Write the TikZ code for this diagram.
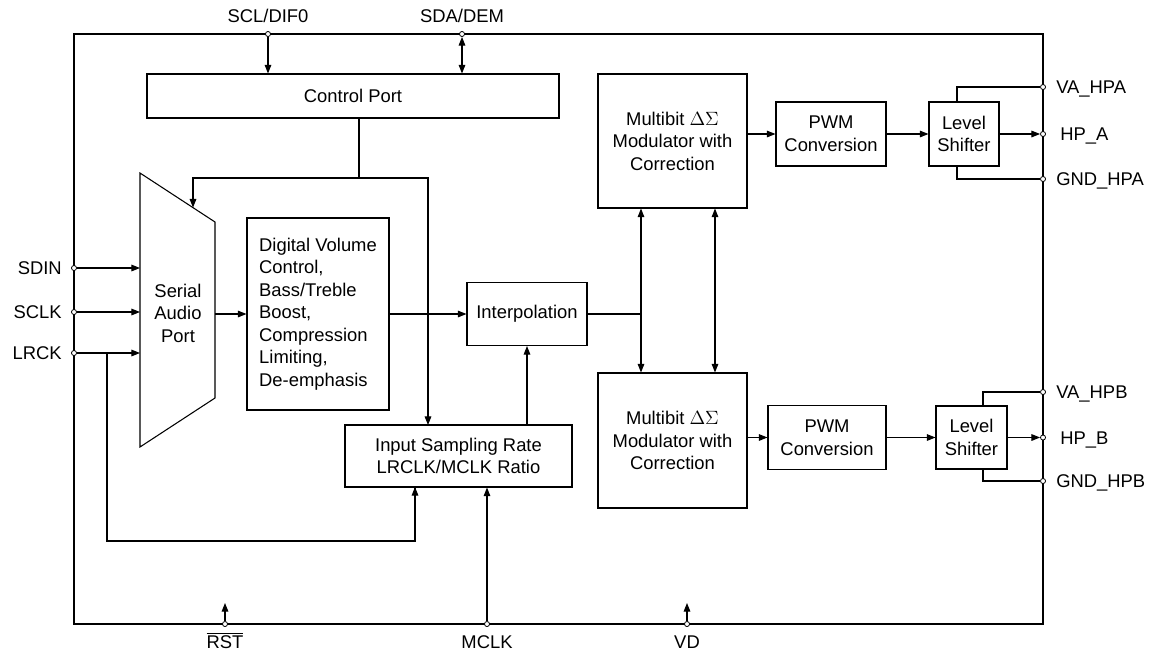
\documentclass[tikz,border=0pt]{standalone}
\usepackage{fontspec}
\setmainfont{Liberation Sans}
\usetikzlibrary{arrows.meta}
\usetikzlibrary{calc}

\begin{document}
\begin{tikzpicture}[
		x=0.75pt, y=-0.75pt,
		every node/.style={font=\fontsize{13.8}{16.9}\selectfont},
		blk/.style={draw, line width=0.8pt, align=center, inner sep=0pt},
		wire/.style={line width=0.8pt},
		arr/.style={wire, -{Triangle[length=6.5pt,width=5pt]}},
		darr/.style={wire, {Triangle[length=6.5pt,width=5pt]}-{Triangle[length=6.5pt,width=5pt]}},
		pin/.style={circle, draw, fill=white, line width=0.6pt, inner sep=0pt, minimum size=3.8pt},
		lbl/.style={inner sep=0pt}
	]
	\useasboundingbox (0,0) rectangle (1149,654);

	% chip outline
	\node[draw, line width=1pt, minimum width=726.75pt, minimum height=442.5pt, inner sep=0pt] (chip) at (558.5,329) {};

	% blocks
	\node[blk, minimum width=309pt, minimum height=33pt] (cp) at (353,96) {Control Port};
	\node[blk, align=left, minimum width=106.5pt, minimum height=144pt] (dvc) at (318,314)
		{Digital Volume\\Control,\\Bass/Treble\\Boost,\\Compression\\Limiting,\\De-emphasis};
	\node[blk, minimum width=90pt, minimum height=47.25pt] (interp) at (527,314) {Interpolation};
	\node[blk, minimum width=170.25pt, minimum height=46.5pt] (isr) at (458.5,456)
		{Input Sampling Rate\\LRCLK/MCLK Ratio};
	\node[blk, minimum width=111.75pt, minimum height=100.5pt] (moda) at (672.5,141)
		{Multibit $\Delta\Sigma$\\Modulator with\\Correction};
	\node[blk, minimum width=111.75pt, minimum height=101.25pt] (modb) at (672.5,440.5)
		{Multibit $\Delta\Sigma$\\Modulator with\\Correction};
	\node[blk, minimum width=82.5pt, minimum height=48pt] (pwma) at (831,134) {PWM\\Conversion};
	\node[blk, minimum width=88.5pt, minimum height=48pt] (pwmb) at (827,437.5) {PWM\\Conversion};
	\node[blk, minimum width=52.5pt, minimum height=48pt] (lsa) at (964,134) {Level\\Shifter};
	\node[blk, minimum width=53.25pt, minimum height=47.25pt] (lsb) at (971.5,437.5) {Level\\Shifter};

	% serial audio port (trapezoid)
	\coordinate (sapA) at (140,173);
	\coordinate (sapB) at (215,222);
	\coordinate (sapC) at (215,398);
	\coordinate (sapD) at (140,447);
	\draw[wire] (sapA) -- (sapB) -- (sapC) -- (sapD) -- cycle;
	\node[lbl, align=center] (sap) at (178,313) {Serial\\Audio\\Port};

	% pins
	\node[pin] (scl) at (268,34) {};
	\node[pin] (sda) at (462,34) {};
	\node[pin] (sdin) at (74,268) {};
	\node[pin] (sclk) at (74,312) {};
	\node[pin] (lrck) at (74,353) {};
	\node[pin] (rst) at (225,624) {};
	\node[pin] (mclk) at (487,624) {};
	\node[pin] (vd) at (687,624) {};
	\node[pin] (vahpa) at (1043,87) {};
	\node[pin] (hpa) at (1043,134) {};
	\node[pin] (gndhpa) at (1043,179) {};
	\node[pin] (vahpb) at (1043,392) {};
	\node[pin] (hpb) at (1043,437.5) {};
	\node[pin] (gndhpb) at (1043,481) {};

	% pin labels
	\node[lbl, anchor=base] (sclL) at (268,22) {SCL/DIF0};
	\node[lbl, anchor=base] (sdaL) at (462,22) {SDA/DEM};
	\node[lbl, anchor=base east] (sdinL) at (62,274.5) {SDIN};
	\node[lbl, anchor=base east] (sclkL) at (62,318.5) {SCLK};
	\node[lbl, anchor=base east] (lrckL) at (62,359.5) {LRCK};
	\node[lbl, anchor=base] (rstL) at (225,648) {$\overline{\mbox{RST}}$};
	\node[lbl, anchor=base] (mclkL) at (487,648) {MCLK};
	\node[lbl, anchor=base] (vdL) at (687,648) {VD};
	\node[lbl, anchor=base west] (vahpaL) at (1056,93.5) {VA\_HPA};
	\node[lbl, anchor=base west] (hpaL) at (1060,140.5) {HP\_A};
	\node[lbl, anchor=base west] (gndhpaL) at (1056,185.5) {GND\_HPA};
	\node[lbl, anchor=base west] (vahpbL) at (1056,398.5) {VA\_HPB};
	\node[lbl, anchor=base west] (hpbL) at (1060,444) {HP\_B};
	\node[lbl, anchor=base west] (gndhpbL) at (1056,487.5) {GND\_HPB};

	% helper points
	\coordinate (j) at (359,178);
	\coordinate (sapTop) at (193,207.6);
	\coordinate (isrIn) at (428,425);
	\coordinate (lrckDn) at (107,541);
	\coordinate (isrLr) at (415,487);
	\coordinate (mj) at (641,314);
	\coordinate (mk) at (715,314);
	\coordinate (rstTip) at (225,603);
	\coordinate (vdTip) at (687,603);

	% control port
	\draw[arr] (scl) -- (cp.north -| scl);
	\draw[darr] (sda) -- (cp.north -| sda);
	\draw[wire] (cp.south -| j) -- (j);
	\draw[arr] (j) -| (sapTop);
	\draw[arr] (j) -| (isrIn);

	% audio path
	\draw[arr] (sdin) -- (sdin -| sapA);
	\draw[arr] (sclk) -- (sclk -| sapA);
	\draw[arr] (lrck) -- (lrck -| sapA);
	\draw[arr] (sapB |- dvc.west) -- (dvc.west);
	\draw[arr] (dvc.east |- interp.west) -- (interp.west);
	\draw[wire] (lrck -| lrckDn) -- (lrckDn) -| (isrLr);
	\draw[arr] (isrLr |- lrckDn) -- (isrLr);
	\draw[arr] (isr.north -| interp.south) -- (interp.south);
	\draw[arr] (mclk) -- (isr.south -| mclk);

	% modulators
	\draw[wire] (interp.east) -- (interp.east -| mj);
	\draw[darr] (moda.south -| mj) -- (modb.north -| mj);
	\draw[darr] (moda.south -| mk) -- (modb.north -| mk);
	\draw[arr] (moda.east |- pwma.west) -- (pwma.west);
	\draw[arr] (modb.east |- pwmb.west) -- (pwmb.west);
	\draw[arr] (pwma.east) -- (lsa.west);
	\draw[arr] (pwmb.east) -- (lsb.west);

	% level shifters
	\draw[arr] (lsa.east) -- (hpa);
	\draw[arr] (lsb.east) -- (hpb);
	\draw[wire] ($(lsa.north)+(-7,0)$) |- (vahpa);
	\draw[wire] ($(lsa.south)+(-7,0)$) |- (gndhpa);
	\draw[wire] ($(lsb.north)+(11.5,0)$) |- (vahpb);
	\draw[wire] ($(lsb.south)+(11.5,0)$) |- (gndhpb);

	% supply and reset
	\draw[arr] (rst) -- (rstTip);
	\draw[arr] (vd) -- (vdTip);
\end{tikzpicture}
\end{document}
